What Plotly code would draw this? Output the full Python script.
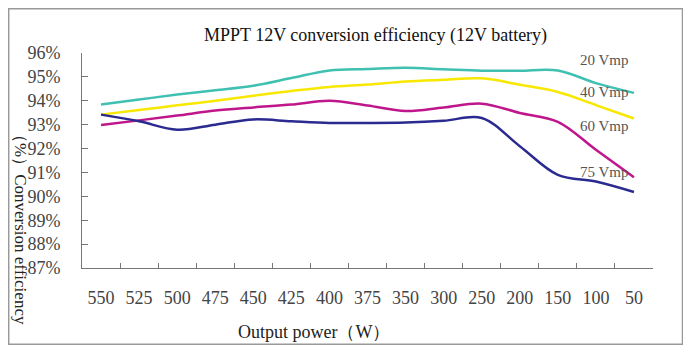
import plotly.graph_objects as go

categories = ["550", "525", "500", "475", "450", "425", "400", "375",
              "350", "300", "250", "200", "150", "100", "50"]
vmp20 = [93.84, 94.05, 94.26, 94.44, 94.63, 94.95, 95.27, 95.33,
         95.38, 95.32, 95.26, 95.26, 95.27, 94.74, 94.33]
vmp40 = [93.42, 93.61, 93.81, 94.00, 94.21, 94.41, 94.58, 94.68,
         94.81, 94.88, 94.94, 94.67, 94.37, 93.82, 93.26]
vmp60 = [92.99, 93.18, 93.38, 93.59, 93.72, 93.84, 94.00, 93.80,
         93.57, 93.72, 93.88, 93.49, 93.12, 91.95, 90.80]
vmp75 = [93.42, 93.14, 92.79, 93.00, 93.22, 93.14, 93.07, 93.07,
         93.09, 93.16, 93.28, 92.10, 90.90, 90.62, 90.18]
series_names = ["20 Vmp", "40 Vmp", "60 Vmp", "75 Vmp"]
series_colors = ["#40c0b0", "#f8e800", "#c0168c", "#2a2a90"]
y_ticks = [87, 88, 89, 90, 91, 92, 93, 94, 95, 96]
y_tick_labels = ["87%", "88%", "89%", "90%", "91%", "92%", "93%", "94%", "95%", "96%"]

FONT = "Liberation Serif"
fig = go.Figure()
for name, vals, col in zip(series_names, [vmp20, vmp40, vmp60, vmp75], series_colors):
    fig.add_trace(go.Scatter(x=categories, y=vals, mode="lines", name=name,
                             line=dict(color=col, width=2.5, shape="spline", smoothing=1.0)))

# page body has an 8px margin; figure sized to fit the 691x356 window
OFF = 8
W, H = 683, 348
L, R, T, B = 74, 38, 45, 88
pw, ph = W - L - R, H - T - B

def px(x):
    return (x - OFF - L) / pw

def py(y):
    return (H - B - (y - OFF)) / ph

fig.update_layout(
    width=W, height=H, margin=dict(l=L, r=R, t=T, b=B),
    paper_bgcolor="white", plot_bgcolor="white", showlegend=False,
)
fig.add_shape(type="rect", xref="paper", yref="paper",
              x0=px(8.7), x1=px(682.5), y0=py(344.3), y1=py(8.7),
              line=dict(color="#999", width=1.5))
fig.add_annotation(text="MPPT 12V conversion efficiency (12V battery)", x=px(375), y=py(35),
                   xref="paper", yref="paper", xanchor="center", yanchor="middle",
                   showarrow=False, font=dict(family=FONT, size=18, color="#111"))
fig.add_annotation(text="（%）Conversion efficiency", x=px(21), y=py(225), textangle=90,
                   xref="paper", yref="paper", xanchor="center", yanchor="middle",
                   showarrow=False, font=dict(family=FONT, size=17, color="#222"))
fig.add_annotation(text="Output power（W）", x=px(314), y=py(332), xref="paper", yref="paper",
                   xanchor="center", yanchor="middle", showarrow=False,
                   font=dict(family=FONT, size=18, color="#222"))
label_y = [60, 91.7, 126, 171.7]
for name, ly in zip(series_names, label_y):
    fig.add_annotation(text=name, x=px(578), y=py(ly), xref="paper", yref="paper",
                       xanchor="left", yanchor="middle", showarrow=False,
                       font=dict(family=FONT, size=15, color="#555"))

fig.update_xaxes(type="category", range=[-0.5, 14.5], showline=True, linecolor="#777",
                 linewidth=1, ticks="inside", ticklen=5, tickcolor="#777", tickson="boundaries",
                 showgrid=False, zeroline=False, ticklabelstandoff=13,
                 tickfont=dict(family=FONT, size=18, color="#444"))
fig.update_yaxes(range=[87, 96], tickmode="array", tickvals=y_ticks, ticktext=y_tick_labels,
                 showline=True, linecolor="#777", linewidth=1, ticks="inside", ticklen=6,
                 tickcolor="#777", showgrid=False, zeroline=False, ticklabelstandoff=17,
                 tickfont=dict(family=FONT, size=18, color="#444"))
fig.write_html("out.html")
